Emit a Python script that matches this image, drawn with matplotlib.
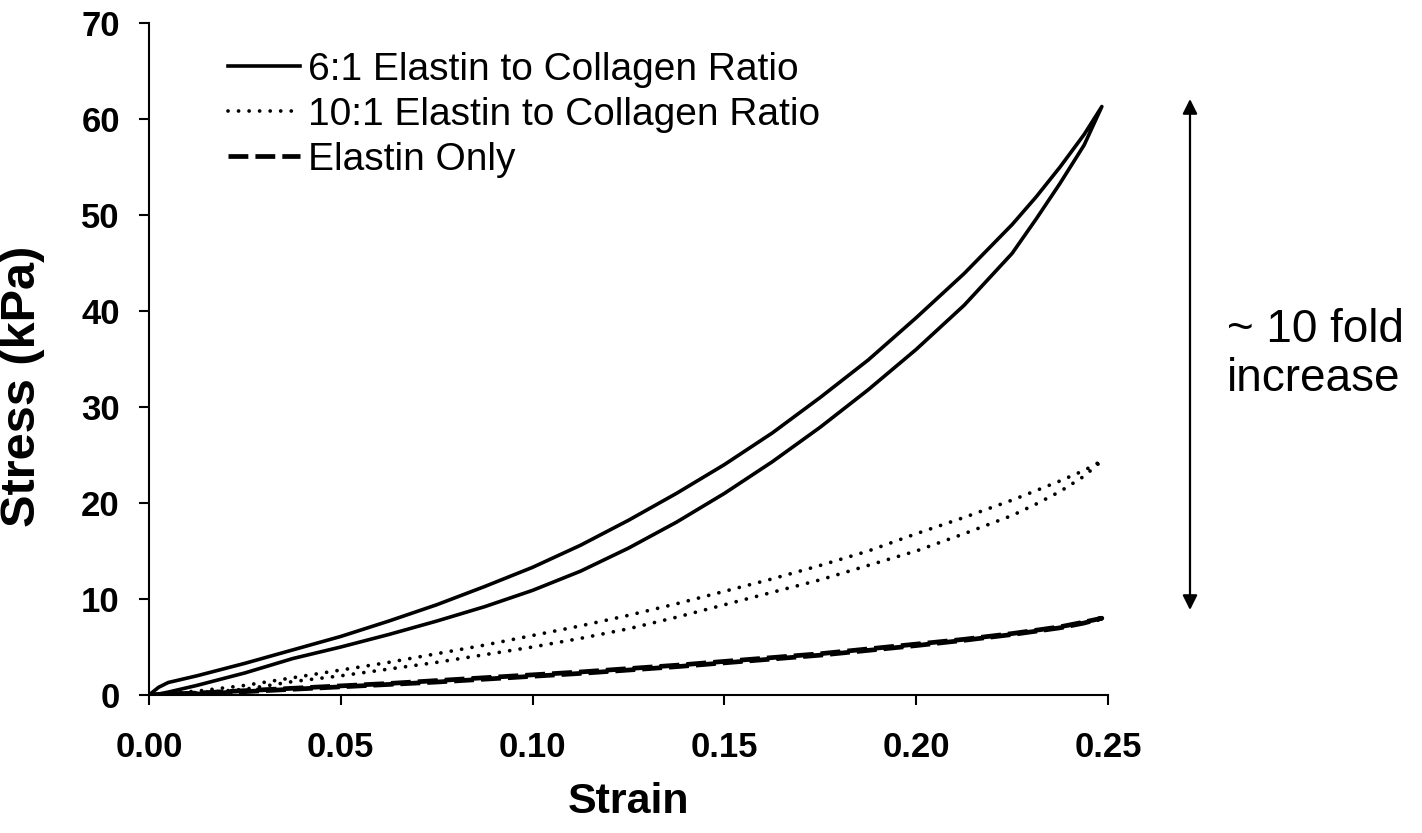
import matplotlib
matplotlib.use("Agg")
import matplotlib.pyplot as plt
import numpy as np

plt.rcParams['font.family'] = ['Liberation Sans', 'DejaVu Sans']

# ---------------- data ----------------
strain = [0.0, 0.0025, 0.005, 0.0125, 0.025, 0.0375, 0.05, 0.0625, 0.075, 0.0875,
          0.1, 0.1125, 0.125, 0.1375, 0.15, 0.1625, 0.175, 0.1875, 0.2, 0.2125,
          0.225, 0.2313, 0.2375, 0.2438, 0.2484]

ratio6_load = [0.0, 0.8, 1.3, 2.0, 3.3, 4.7, 6.1, 7.7, 9.4, 11.3,
               13.3, 15.6, 18.2, 21.0, 24.0, 27.3, 31.0, 34.9, 39.3, 43.9,
               49.0, 51.9, 55.0, 58.4, 61.3]
ratio6_unload = [0.0, 0.1, 0.3, 1.0, 2.3, 3.8, 5.0, 6.3, 7.7, 9.2,
                 10.9, 12.9, 15.3, 18.0, 21.0, 24.3, 27.9, 31.8, 36.0, 40.6,
                 46.0, 49.6, 53.3, 57.3, 61.3]

ratio10_load = [0.0, 0.1, 0.2, 0.4, 1.0, 1.8, 2.6, 3.4, 4.3, 5.2,
                6.2, 7.2, 8.3, 9.5, 10.8, 12.1, 13.5, 15.0, 16.8, 18.5,
                20.3, 21.3, 22.3, 23.4, 24.4]
ratio10_unload = [0.0, 0.05, 0.1, 0.2, 0.6, 1.4, 2.0, 2.7, 3.4, 4.2,
                  5.0, 5.9, 6.9, 8.1, 9.4, 10.7, 12.0, 13.5, 15.0, 16.8,
                  18.7, 19.9, 21.2, 22.8, 24.4]

elastin_load = [0.0, 0.05, 0.1, 0.2, 0.45, 0.7, 0.95, 1.2, 1.5, 1.8,
                2.1, 2.4, 2.75, 3.1, 3.5, 3.9, 4.3, 4.8, 5.3, 5.8,
                6.4, 6.75, 7.1, 7.6, 8.0]
elastin_unload = [0.0, 0.0, 0.05, 0.1, 0.35, 0.6, 0.85, 1.1, 1.35, 1.65,
                  1.95, 2.25, 2.6, 2.95, 3.35, 3.75, 4.15, 4.65, 5.15, 5.7,
                  6.3, 6.65, 7.0, 7.5, 8.0]

series_labels = ["6:1 Elastin to Collagen Ratio",
                 "10:1 Elastin to Collagen Ratio",
                 "Elastin Only"]

x_ticks = [0.00, 0.05, 0.10, 0.15, 0.20, 0.25]
y_ticks = [0, 10, 20, 30, 40, 50, 60, 70]

# ---------------- figure ----------------
W, H = 1422, 833
fig = plt.figure(figsize=(W / 100, H / 100), dpi=100)
ax = fig.add_axes([149 / W, 1 - 695 / H, (1108 - 149) / W, (695 - 23) / H])


def loop(load, unload):
    xs = list(strain) + list(strain[::-1])
    ys = list(load) + list(unload[::-1])
    return xs, ys


x6, y6 = loop(ratio6_load, ratio6_unload)
x10, y10 = loop(ratio10_load, ratio10_unload)
xe, ye = loop(elastin_load, elastin_unload)

ax.plot(x6, y6, color='black', lw=2.6, solid_joinstyle='round',
        label=series_labels[0])
ax.plot(x10, y10, color='black', lw=2.7, linestyle=(0, (0.01, 2.8)),
        dash_capstyle='round', label=series_labels[1])
ax.plot(xe, ye, color='black', lw=3.4, linestyle=(0, (4.2, 1.5)),
        label=series_labels[2])

ax.set_xlim(0, 0.25)
ax.set_ylim(0, 70)
ax.set_xticks(x_ticks)
ax.set_xticklabels([f"{v:.2f}" for v in x_ticks])
ax.set_yticks(y_ticks)
ax.set_yticklabels([str(v) for v in y_ticks])

for s in ['top', 'right']:
    ax.spines[s].set_visible(False)
for s in ['left', 'bottom']:
    ax.spines[s].set_linewidth(1.5)

ax.tick_params(axis='both', direction='out', length=7, width=1.5,
               labelsize=25)
ax.tick_params(axis='x', pad=19)
ax.tick_params(axis='y', pad=14)
for lab in ax.get_xticklabels() + ax.get_yticklabels():
    lab.set_fontweight('bold')

ax.set_xlabel("Strain", fontsize=31, fontweight='bold')
ax.set_ylabel("Stress (kPa)", fontsize=35, fontweight='bold')
ax.xaxis.set_label_coords(0.5, -0.13)
ax.yaxis.set_label_coords(-0.108, 0.46)

leg = ax.legend(loc='upper left', bbox_to_anchor=(228 / W, 1 - 52 / H),
                bbox_transform=fig.transFigure, frameon=False,
                fontsize=28, handlelength=1.85, handletextpad=0.2,
                labelspacing=0.23, borderpad=0, borderaxespad=0)

# arrow and annotation
ax.annotate("", xy=(1190, H - 99), xytext=(1190, H - 610),
            xycoords='figure pixels', textcoords='figure pixels',
            arrowprops=dict(arrowstyle='<|-|>', color='black', lw=1.6,
                            mutation_scale=22, shrinkA=0, shrinkB=0),
            annotation_clip=False)
fig.text(1227 / W, 1 - 308 / H, "~ 10 fold\nincrease", fontsize=33,
         ha='left', va='top', linespacing=1.15)

fig.savefig("out.png", dpi=100)
